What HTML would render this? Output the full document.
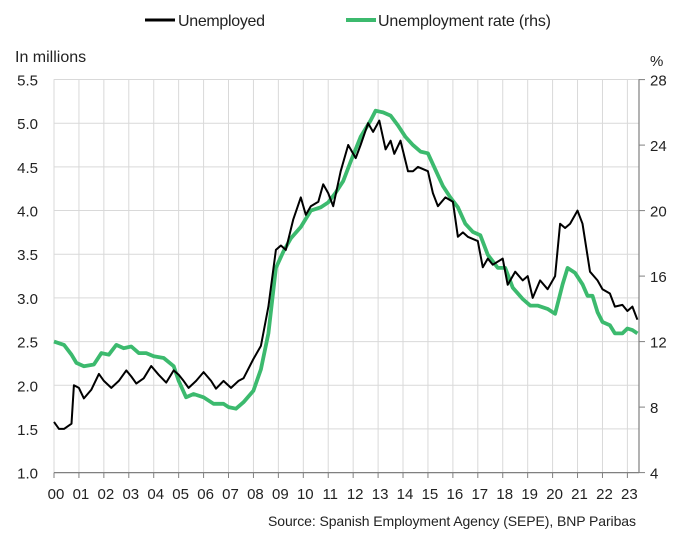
<!DOCTYPE html>
<html><head><meta charset="utf-8"><style>
html,body{margin:0;padding:0;background:#fff;}
svg{display:block;font-family:"Liberation Sans",sans-serif;}
</style></head><body>
<svg id="c" width="673" height="534" xmlns="http://www.w3.org/2000/svg">
<g id="grid" stroke="#d9d9d9" stroke-width="1"></g>
<g stroke="#808080" stroke-width="1.2">
<line x1="54" y1="472.6" x2="639" y2="472.6"/>
<line x1="639" y1="79.3" x2="639" y2="472.6"/>
</g>
<g id="ticks" stroke="#808080" stroke-width="1"></g>
<g id="labels" font-size="15" fill="#222"></g>
<text x="15" y="62" font-size="16" fill="#222">In millions</text>
<text x="650" y="66" font-size="15" fill="#222">%</text>
<line x1="145" y1="20" x2="175" y2="20" stroke="#000" stroke-width="3"/>
<text x="178" y="26" font-size="16" fill="#222" textLength="87">Unemployed</text>
<line x1="346" y1="20" x2="376" y2="20" stroke="#3cba6e" stroke-width="4"/>
<text x="378" y="26" font-size="16" fill="#222" textLength="173">Unemployment rate (rhs)</text>
<text x="636" y="526" font-size="14" fill="#222" text-anchor="end" textLength="368">Source: Spanish Employment Agency (SEPE), BNP Paribas</text>
<polyline id="g" fill="none" stroke="#3cba6e" stroke-width="3.8" stroke-linejoin="round"/>
<polyline id="b" fill="none" stroke="#000" stroke-width="2" stroke-linejoin="round"/>
</svg>
<script>
const X=t=>54+24.93*(t-2000), YL=v=>472.6-(v-1)*87.35, YR=r=>472.6-(r-4)*16.375;
const ns="http://www.w3.org/2000/svg";
function el(p,n,a,t){const e=document.createElementNS(ns,n);for(const k in a)e.setAttribute(k,a[k]);if(t!=null)e.textContent=t;document.getElementById(p).appendChild(e);}
for(let k=0;k<=23;k++){const x=X(2000+k);el("grid","line",{x1:x,y1:79.3,x2:x,y2:472.6});el("ticks","line",{x1:x,y1:472.6,x2:x,y2:478});
el("labels","text",{x:x+2,y:499,"text-anchor":"middle"},String(k).padStart(2,"0"));}
for(let i=0;i<=9;i++){const v=1+i*0.5,y=YL(v);el("grid","line",{x1:54,y1:y,x2:639,y2:y});el("labels","text",{x:38,y:y+6,"text-anchor":"end"},v.toFixed(1));}
for(let r=4;r<=28;r+=4){const y=YR(r);el("ticks","line",{x1:639,y1:y,x2:645,y2:y});el("labels","text",{x:650,y:y+6},String(r));}
const b=[[2000,1.58],[2000.2,1.5],[2000.4,1.5],[2000.7,1.56],[2000.8,2.0],[2001,1.97],[2001.2,1.85],[2001.5,1.95],[2001.8,2.13],[2002,2.05],[2002.3,1.97],[2002.6,2.05],[2002.9,2.17],[2003.1,2.1],[2003.3,2.02],[2003.6,2.08],[2003.9,2.22],[2004.2,2.12],[2004.5,2.03],[2004.8,2.17],[2005,2.12],[2005.2,2.05],[2005.4,1.97],[2005.7,2.05],[2006,2.15],[2006.3,2.05],[2006.5,1.96],[2006.8,2.05],[2007.1,1.97],[2007.4,2.05],[2007.6,2.08],[2008,2.3],[2008.3,2.45],[2008.6,2.9],[2008.9,3.55],[2009.1,3.6],[2009.3,3.55],[2009.6,3.9],[2009.9,4.15],[2010.1,3.95],[2010.3,4.05],[2010.6,4.1],[2010.8,4.3],[2011,4.2],[2011.2,4.05],[2011.5,4.45],[2011.8,4.75],[2012.1,4.6],[2012.3,4.75],[2012.6,5.0],[2012.8,4.9],[2013.05,5.03],[2013.3,4.7],[2013.5,4.8],[2013.65,4.65],[2013.9,4.8],[2014.2,4.45],[2014.4,4.45],[2014.6,4.5],[2015,4.45],[2015.2,4.2],[2015.4,4.05],[2015.7,4.15],[2016,4.1],[2016.2,3.7],[2016.4,3.75],[2016.6,3.7],[2017,3.65],[2017.2,3.35],[2017.4,3.45],[2017.6,3.38],[2018,3.45],[2018.2,3.15],[2018.5,3.3],[2018.8,3.2],[2019,3.25],[2019.2,3.0],[2019.5,3.2],[2019.8,3.1],[2020.1,3.25],[2020.3,3.85],[2020.5,3.8],[2020.7,3.85],[2021,4.0],[2021.2,3.85],[2021.5,3.3],[2021.8,3.2],[2022,3.1],[2022.3,3.05],[2022.5,2.9],[2022.8,2.92],[2023,2.85],[2023.2,2.9],[2023.4,2.75]];
const g=[[2000,12.0],[2000.4,11.8],[2000.7,11.2],[2000.9,10.7],[2001.2,10.5],[2001.6,10.6],[2001.9,11.3],[2002.2,11.2],[2002.5,11.8],[2002.8,11.6],[2003.1,11.7],[2003.4,11.3],[2003.7,11.3],[2004,11.1],[2004.4,11.0],[2004.8,10.5],[2005,9.6],[2005.3,8.6],[2005.6,8.8],[2006,8.6],[2006.4,8.2],[2006.8,8.2],[2007,8.0],[2007.3,7.9],[2007.6,8.3],[2008,9.0],[2008.3,10.3],[2008.6,12.5],[2008.9,16.5],[2009.2,17.5],[2009.5,18.3],[2009.9,19.0],[2010.3,20.0],[2010.7,20.2],[2011,20.5],[2011.3,21.1],[2011.6,21.8],[2011.9,23.0],[2012.3,24.5],[2012.7,25.5],[2012.9,26.1],[2013.2,26.0],[2013.5,25.8],[2013.8,25.2],[2014.1,24.5],[2014.4,24.0],[2014.7,23.6],[2015,23.5],[2015.3,22.5],[2015.6,21.5],[2015.9,20.8],[2016.2,20.2],[2016.5,19.2],[2016.8,18.7],[2017.1,18.5],[2017.4,17.3],[2017.8,16.5],[2018.1,16.5],[2018.4,15.3],[2018.8,14.6],[2019.1,14.2],[2019.4,14.2],[2019.8,14.0],[2020.1,13.7],[2020.4,15.5],[2020.6,16.5],[2020.9,16.2],[2021.2,15.5],[2021.4,14.8],[2021.6,14.8],[2021.8,13.8],[2022,13.2],[2022.3,13.0],[2022.5,12.5],[2022.8,12.5],[2023,12.8],[2023.2,12.7],[2023.4,12.5]];
document.getElementById("b").setAttribute("points",b.map(p=>X(p[0]).toFixed(1)+","+YL(p[1]).toFixed(1)).join(" "));
document.getElementById("g").setAttribute("points",g.map(p=>X(p[0]).toFixed(1)+","+YR(p[1]).toFixed(1)).join(" "));
</script>
</body></html>
